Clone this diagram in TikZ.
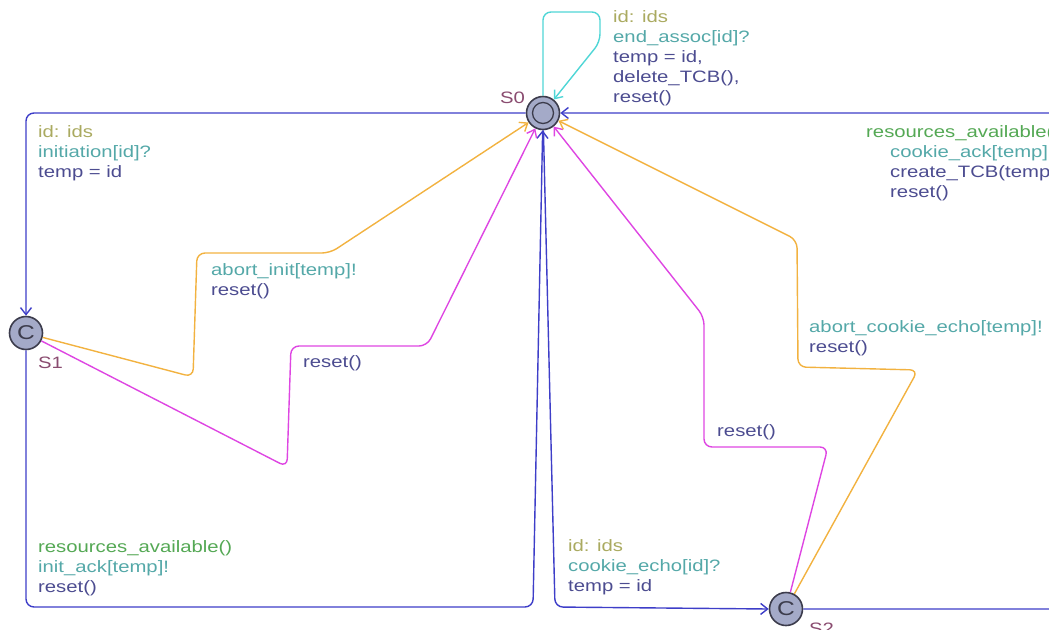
\documentclass[tikz,border=0pt]{standalone}
\usepackage{fontspec}
\newfontfamily\uppfont[FakeStretch=1.23]{Liberation Sans}
\usetikzlibrary{arrows.meta}

\definecolor{edgeblue}{RGB}{62,62,200}
\definecolor{edgeorange}{RGB}{242,178,64}
\definecolor{edgemagenta}{RGB}{222,70,226}
\definecolor{edgecyan}{RGB}{80,214,214}
\definecolor{selcol}{RGB}{170,170,96}
\definecolor{synccol}{RGB}{84,168,168}
\definecolor{updcol}{RGB}{76,76,144}
\definecolor{guardcol}{RGB}{84,168,84}
\definecolor{namecol}{RGB}{138,76,112}
\definecolor{locfill}{RGB}{164,170,200}
\definecolor{locline}{RGB}{60,60,76}

\newcommand{\sel}[1]{\textcolor{selcol}{#1}}
\newcommand{\syn}[1]{\textcolor{synccol}{#1}}
\newcommand{\upd}[1]{\textcolor{updcol}{#1}}
\newcommand{\grd}[1]{\textcolor{guardcol}{#1}}

\begin{document}
\begin{tikzpicture}[x=1pt, y=-1pt,
  loc/.style={draw=locline, fill=locfill, circle, line width=1.6pt, minimum size=33pt, inner sep=0pt, text=locline, font=\uppfont\fontsize{20}{20}\selectfont},
  locname/.style={anchor=base west, inner sep=0pt, text=namecol, font=\uppfont\fontsize{16.5}{20}\selectfont},
  lbl/.style={anchor=north west, inner sep=0pt, align=left, font=\uppfont\fontsize{16.5}{20}\selectfont},
  edge/.style={line width=1.4pt, rounded corners=8pt, -{Straight Barb[length=7pt,width=11pt]}}]

\useasboundingbox (0,0) rectangle (1049,629);
\clip (0,0) rectangle (1049,629);

% Locations
\node[loc] (s0) at (543,113) {};
\draw[locline, line width=1.3pt] (s0) circle (10.5);
\node[loc] (s1) at (26,333) {C};
\node[loc] (s2) at (786,609) {C};
\node[locname] (s0name) at (500,103) {S0};
\node[locname] (s1name) at (38,368) {S1};
\node[locname] (s2name) at (809,634) {S2};

% Corner points
\coordinate (c1) at (533,607);
\coordinate (c2) at (555,607);
\coordinate (c3) at (1070,609);
\coordinate (c4) at (1070,113);

% Edges
\draw[edge, edgecyan] (s0.north) -- (543,12) -- (600,12) -- (600,42) -- (s0);
\draw[edge, edgeblue] (s0.west) -| (s1.north);
\draw[edge, edgeblue] (s1.south) |- (c1) -- (s0);
\draw[edge, edgeblue] (s0) -- (c2) -- (s2.west);
\draw[edge, edgeblue] (s2.east) -- (c3) -- (c4) -- (s0.east);
\draw[edge, edgeorange] (s1) -- (193,377) -- (197,253) -- (330,253) -- (s0);
\draw[edge, edgemagenta] (s1) -- (287,467) -- (291,346) -- (427,346) -- (s0);
\draw[edge, edgemagenta] (s2) -- (828,447) -- (704,447) -- (704,317) -- (s0);
\draw[edge, edgeorange] (s2) -- (918,370) -- (798,367) -- (797,240) -- (s0);

% Labels
\node[lbl] (lloop) at (613,10) {\sel{id: ids}\\ \syn{end\_assoc[id]?}\\ \upd{temp = id,}\\ \upd{delete\_TCB(),}\\ \upd{reset()}};
\node[lbl] (linit) at (38,125) {\sel{id: ids}\\ \syn{initiation[id]?}\\ \upd{temp = id}};
\node[lbl] (lack) at (38,540) {\grd{resources\_available()}\\ \syn{init\_ack[temp]!}\\ \upd{reset()}};
\node[lbl] (lecho) at (568,539) {\sel{id: ids}\\ \syn{cookie\_echo[id]?}\\ \upd{temp = id}};
\node[lbl] (lcack) at (866,125) {\grd{resources\_available()}\\ \hspace*{24pt}\syn{cookie\_ack[temp]!}\\ \hspace*{24pt}\upd{create\_TCB(temp)}\\ \hspace*{24pt}\upd{reset()}};
\node[lbl] (labinit) at (211,263) {\syn{abort\_init[temp]!}\\ \upd{reset()}};
\node[lbl] (lres1) at (303,355) {\upd{reset()}};
\node[lbl] (labecho) at (809,320) {\syn{abort\_cookie\_echo[temp]!}\\ \upd{reset()}};
\node[lbl] (lres2) at (717,424) {\upd{reset()}};

\end{tikzpicture}
\end{document}
